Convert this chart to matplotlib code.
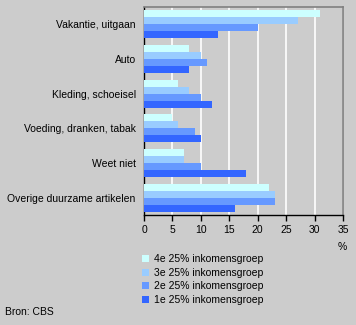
import matplotlib
matplotlib.use("Agg")
import matplotlib.pyplot as plt
import numpy as np
from matplotlib.patches import Patch

categories = ["Vakantie, uitgaan", "Auto", "Kleding, schoeisel",
              "Voeding, dranken, tabak", "Weet niet", "Overige duurzame artikelen"]
series_names = ["4e 25% inkomensgroep", "3e 25% inkomensgroep",
                "2e 25% inkomensgroep", "1e 25% inkomensgroep"]
q4 = [31, 8, 6, 5, 7, 22]
q3 = [27, 10, 8, 6, 7, 23]
q2 = [20, 11, 10, 9, 10, 23]
q1 = [13, 8, 12, 10, 18, 16]
series_values = [q4, q3, q2, q1]
colors = ["#CCFFFF", "#99CCFF", "#6699FF", "#3366FF"]
xticks = [0, 5, 10, 15, 20, 25, 30, 35]

plt.rcParams["font.family"] = ["Liberation Sans", "DejaVu Sans"]
bg = "#CCCCCC"
W, H = 356, 325
fig = plt.figure(figsize=(W / 100, H / 100), dpi=100, facecolor=bg)
ax = fig.add_axes([144 / W, 1 - 215 / H, 199 / W, 208 / H], facecolor=bg)

n = len(categories)
bh = 0.2
y = np.arange(n)
for i, (vals, c) in enumerate(zip(series_values, colors)):
    ax.barh(y - 0.3 + i * bh, vals, height=bh, color=c, edgecolor="none",
            zorder=3, label=series_names[i])

ax.set_ylim(n - 0.5, -0.5)
ax.set_xlim(0, 35)
ax.set_xticks(xticks)
ax.set_xticklabels([str(t) for t in xticks], fontsize=7.5)
ax.set_yticks(y)
ax.set_yticklabels(categories, fontsize=7.5)
ax.tick_params(axis="y", length=0, pad=6)
ax.tick_params(axis="x", length=4, width=1, direction="out", pad=3, color="black")
ax.xaxis.grid(True, color="white", linewidth=1.2, zorder=1)
for s in ["top", "right"]:
    ax.spines[s].set_color("#808080")
    ax.spines[s].set_linewidth(1.2)
for s in ["left", "bottom"]:
    ax.spines[s].set_color("black")
    ax.spines[s].set_linewidth(1)

fig.text(342 / W, 1 - 247 / H, "%", fontsize=7.5, ha="center", va="center")

handles = [Patch(facecolor=c, edgecolor="none") for c in colors]
fig.legend(handles, series_names, loc="upper left",
           bbox_to_anchor=(138 / W, 1 - 250 / H), frameon=False, fontsize=7.5,
           handlelength=0.7, handleheight=0.7, handletextpad=0.4,
           labelspacing=0.35, borderaxespad=0)

fig.text(5 / W, 1 - 312 / H, "Bron: CBS", fontsize=7.5, ha="left", va="center")

fig.savefig("out.png", dpi=100, facecolor=bg)
